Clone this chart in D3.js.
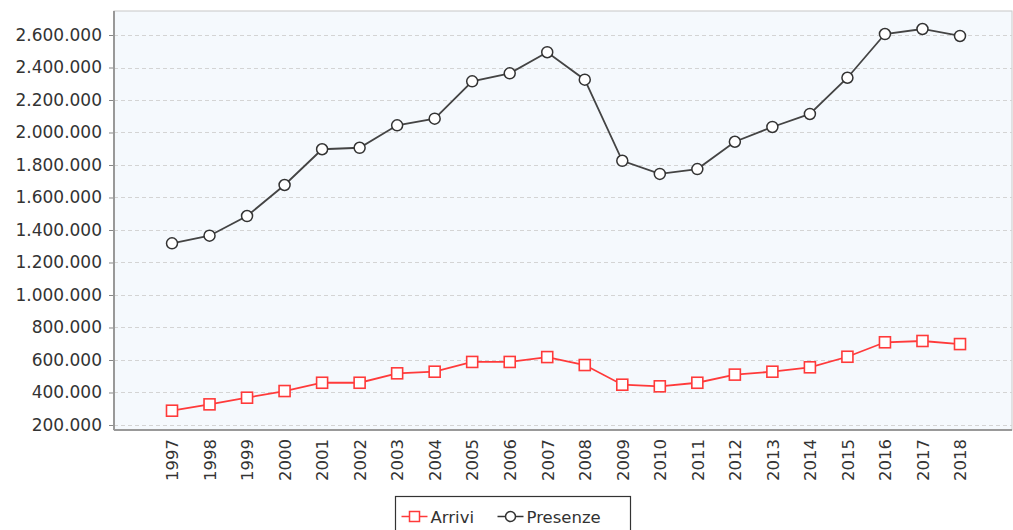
<!DOCTYPE html>
<html>
<head>
<meta charset="utf-8">
<script src="https://cdn.jsdelivr.net/npm/d3@7"></script>
<style>
  body { margin: 0; background: #fff; }
  text { font-family: "DejaVu Sans", sans-serif; fill: #333; }
</style>
</head>
<body>
<div id="canvas"></div>
<script>
const years = ["1997", "1998", "1999", "2000", "2001", "2002", "2003", "2004", "2005", "2006", "2007",
  "2008", "2009", "2010", "2011", "2012", "2013", "2014", "2015", "2016", "2017", "2018"];
const arrivi = [288000, 327000, 368000, 409000, 460000, 460000, 518000, 528000, 588000, 588000, 618000,
  569000, 448000, 438000, 460000, 510000, 528000, 555000, 620000, 709000, 717000, 698000];
const presenze = [1318000, 1365000, 1486000, 1677000, 1897000, 1906000, 2044000, 2085000, 2315000, 2364000, 2494000,
  2325000, 1826000, 1745000, 1775000, 1943000, 2034000, 2114000, 2337000, 2606000, 2637000, 2594000];
const yTicks = [200000, 400000, 600000, 800000, 1000000, 1200000, 1400000, 1600000, 1800000, 2000000,
  2200000, 2400000, 2600000];

const width = 1013;
const height = 530;
const margin = { top: 11, left: 114, bottom: 100, right: 1 };
const iwidth = width - margin.left - margin.right;
const iheight = height - margin.top - margin.bottom;

const svg = d3.select("#canvas").append("svg").attr("width", width).attr("height", height);
const g = svg.append("g").attr("transform", `translate(${margin.left}, ${margin.top})`);

const x = d3.scalePoint().domain(years).range([58, 846]);
const y = d3.scaleLinear().domain([169200, 2747700]).range([iheight, 0]);

const fmt = (v) => d3.format(",")(v).replace(/,/g, ".");

// plot background
g.append("rect")
  .attr("width", iwidth)
  .attr("height", iheight)
  .attr("fill", "#f5f9fd")
  .attr("stroke", "#c8c8c8");

// grid
g.selectAll(".grid")
  .data(yTicks)
  .enter()
  .append("line")
  .attr("x1", 0)
  .attr("x2", iwidth)
  .attr("y1", (d) => Math.round(y(d)) + 0.5)
  .attr("y2", (d) => Math.round(y(d)) + 0.5)
  .attr("stroke", "#d4d4d4")
  .attr("stroke-dasharray", "4,3");

// y axis
const yAxis = g.append("g")
  .call(d3.axisLeft(y).tickValues(yTicks).tickFormat(fmt).tickSize(5).tickPadding(7));
yAxis.select(".domain").remove();
yAxis.selectAll(".tick line").attr("stroke", "#888");
yAxis.selectAll("text").style("font-size", "17px").attr("fill", "#333");

// x axis
const xAxis = g.append("g")
  .attr("transform", `translate(0, ${iheight})`)
  .call(d3.axisBottom(x).tickSize(0).tickPadding(8));
xAxis.select(".domain").remove();
xAxis.selectAll("text")
  .style("font-size", "16.5px")
  .attr("fill", "#333")
  .attr("text-anchor", "end")
  .attr("dy", "0.35em")
  .attr("transform", "rotate(-90)")
  .attr("x", -9)
  .attr("y", 0);

// axis lines
g.append("line").attr("x1", 0).attr("x2", 0).attr("y1", 0).attr("y2", iheight)
  .attr("stroke", "#999").attr("stroke-width", 2);
g.append("line").attr("x1", 0).attr("x2", iwidth).attr("y1", iheight).attr("y2", iheight)
  .attr("stroke", "#999").attr("stroke-width", 2);

// lines
const line = (vals) => d3.line().x((d, i) => x(years[i])).y((d) => y(d))(vals);

g.append("path")
  .attr("d", line(presenze))
  .attr("fill", "none")
  .attr("stroke", "#444")
  .attr("stroke-width", 1.8);

g.append("path")
  .attr("d", line(arrivi))
  .attr("fill", "none")
  .attr("stroke", "#ff3a3a")
  .attr("stroke-width", 1.8);

g.selectAll(".pt")
  .data(presenze)
  .enter()
  .append("circle")
  .attr("cx", (d, i) => x(years[i]))
  .attr("cy", (d) => y(d))
  .attr("r", 5.5)
  .attr("fill", "#fff")
  .attr("stroke", "#333")
  .attr("stroke-width", 1.5);

g.selectAll(".sq")
  .data(arrivi)
  .enter()
  .append("rect")
  .attr("x", (d, i) => x(years[i]) - 5.5)
  .attr("y", (d) => y(d) - 5.5)
  .attr("width", 11)
  .attr("height", 11)
  .attr("fill", "#fff")
  .attr("stroke", "#ff3a3a")
  .attr("stroke-width", 1.6);

// legend
const lg = svg.append("g").attr("transform", "translate(395.5, 496.5)");
lg.append("rect")
  .attr("width", 235)
  .attr("height", 40)
  .attr("fill", "#fff")
  .attr("stroke", "#333")
  .attr("stroke-width", 1.2);

lg.append("line").attr("x1", 6).attr("x2", 32).attr("y1", 20).attr("y2", 20)
  .attr("stroke", "#ff3a3a").attr("stroke-width", 1.5);
lg.append("rect").attr("x", 14).attr("y", 15).attr("width", 10).attr("height", 10)
  .attr("fill", "#fff").attr("stroke", "#ff3a3a").attr("stroke-width", 1.5);
lg.append("text").attr("x", 35).attr("y", 26).style("font-size", "16.5px").text("Arrivi");

lg.append("line").attr("x1", 102).attr("x2", 128).attr("y1", 20).attr("y2", 20)
  .attr("stroke", "#333").attr("stroke-width", 1.5);
lg.append("circle").attr("cx", 115).attr("cy", 20).attr("r", 5)
  .attr("fill", "#fff").attr("stroke", "#333").attr("stroke-width", 1.5);
lg.append("text").attr("x", 131).attr("y", 26).style("font-size", "16.5px").text("Presenze");
</script>
</body>
</html>
